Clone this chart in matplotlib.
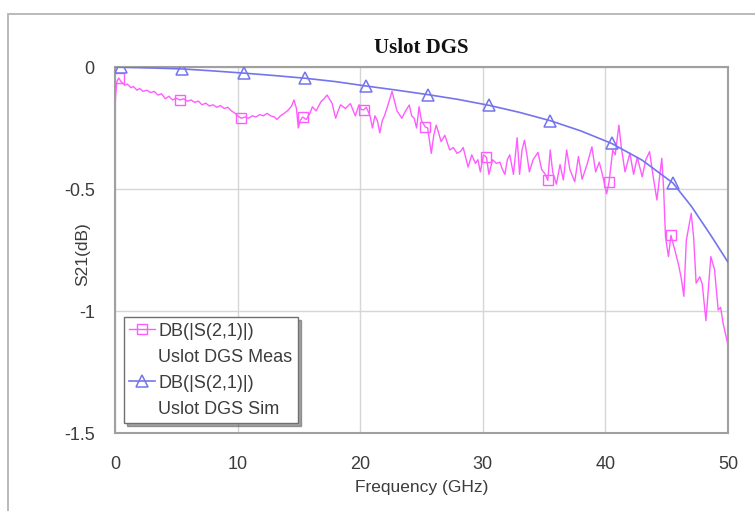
import numpy as np
import matplotlib
matplotlib.use("Agg")
import matplotlib.pyplot as plt
from matplotlib.patches import Rectangle
from matplotlib.lines import Line2D

# Measured |S21| in dB vs frequency (GHz)
meas_freq = [
    0.0, 0.05, 0.15, 0.3, 0.5, 0.8, 1.0, 1.3, 1.5, 1.8, 2.0, 2.3, 2.6, 2.9, 3.2, 3.5,
    3.8, 4.1, 4.4, 4.7, 5.0, 5.3, 5.6, 5.9, 6.2, 6.5, 6.8, 7.1, 7.4, 7.7, 8.0, 8.3,
    8.6, 8.9, 9.2, 9.5, 9.8, 10.0, 10.3, 10.6, 10.9, 11.2, 11.5, 11.8, 12.1, 12.4,
    12.7, 13.0, 13.2, 13.5, 13.8, 14.1, 14.4, 14.6, 14.8, 14.95, 15.1, 15.3, 15.6,
    15.9, 16.1, 16.4, 16.8, 17.05, 17.3, 17.7, 18.0, 18.2, 18.4, 18.8, 19.2, 19.6,
    19.9, 20.1, 20.3, 20.5, 20.8, 21.0, 21.2, 21.4, 21.6, 21.8, 22.0, 22.3, 22.6,
    22.8, 23.0, 23.4, 23.7, 24.0, 24.2, 24.4, 24.6, 24.8, 25.0, 25.3, 25.5, 25.8,
    26.0, 26.2, 26.4, 26.6, 26.9, 27.3, 27.6, 27.9, 28.2, 28.4, 28.6, 28.8, 29.1,
    29.4, 29.6, 29.8, 30.05, 30.3, 30.5, 30.8, 31.1, 31.4, 31.6, 31.8, 32.0, 32.2,
    32.5, 32.8, 33.0, 33.2, 33.4, 33.6, 33.8, 34.1, 34.5, 34.8, 35.1, 35.3, 35.5,
    35.7, 36.0, 36.3, 36.57, 36.84, 37.1, 37.5, 37.8, 38.1, 38.5, 38.9, 39.2, 39.5,
    39.8, 40.1, 40.3, 40.6, 40.8, 41.1, 41.3, 41.6, 42.0, 42.3, 42.6, 43.0, 43.3,
    43.6, 43.9, 44.2, 44.6, 44.75, 44.9, 45.14, 45.35, 45.5, 45.7, 46.0, 46.2, 46.4,
    46.6, 47.0, 47.2, 47.4, 47.7, 47.9, 48.2, 48.6, 48.9, 49.2, 49.4, 49.6, 50.0,
]
meas_db = [
    -0.17, -0.12, -0.06, -0.045, -0.06, -0.075, -0.07, -0.085, -0.08, -0.095, -0.088,
    -0.1, -0.095, -0.105, -0.1, -0.115, -0.11, -0.13, -0.12, -0.135, -0.128, -0.135,
    -0.13, -0.14, -0.135, -0.145, -0.14, -0.155, -0.148, -0.16, -0.155, -0.165, -0.158,
    -0.17, -0.165, -0.18, -0.19, -0.2, -0.21, -0.205, -0.21, -0.2, -0.205, -0.195,
    -0.2, -0.19, -0.2, -0.205, -0.215, -0.2, -0.19, -0.178, -0.16, -0.135, -0.17,
    -0.25, -0.22, -0.205, -0.215, -0.19, -0.163, -0.18, -0.142, -0.13, -0.115, -0.148,
    -0.21, -0.18, -0.155, -0.17, -0.15, -0.2, -0.155, -0.175, -0.175, -0.165, -0.2,
    -0.25, -0.2, -0.22, -0.27, -0.22, -0.197, -0.15, -0.1, -0.14, -0.18, -0.21, -0.18,
    -0.156, -0.2, -0.21, -0.25, -0.163, -0.22, -0.245, -0.25, -0.354, -0.28, -0.238,
    -0.27, -0.306, -0.28, -0.34, -0.33, -0.354, -0.345, -0.33, -0.37, -0.41, -0.36,
    -0.395, -0.38, -0.43, -0.36, -0.37, -0.44, -0.38, -0.395, -0.39, -0.42, -0.44,
    -0.38, -0.36, -0.44, -0.29, -0.44, -0.34, -0.3, -0.36, -0.43, -0.38, -0.35, -0.42,
    -0.44, -0.465, -0.34, -0.43, -0.48, -0.4, -0.463, -0.34, -0.42, -0.47, -0.367,
    -0.46, -0.4, -0.327, -0.43, -0.39, -0.45, -0.52, -0.47, -0.34, -0.36, -0.238,
    -0.33, -0.43, -0.353, -0.44, -0.37, -0.45, -0.38, -0.347, -0.45, -0.545, -0.374,
    -0.5, -0.695, -0.777, -0.69, -0.72, -0.757, -0.818, -0.87, -0.94, -0.71, -0.6,
    -0.7, -0.886, -0.86, -0.89, -1.04, -0.777, -0.83, -0.996, -0.985, -1.05, -1.14,
]
meas_marker_freq = [0.3, 5.3, 10.3, 15.3, 20.3, 25.3, 30.3, 35.3, 40.3, 45.35]

# Simulated |S21| in dB vs frequency (GHz)
sim_freq = [0.0, 0.5, 3.0, 5.5, 8.0, 10.5, 13.0, 15.5, 18.0, 20.5, 23.0, 25.5, 28.0,
            30.5, 33.0, 35.5, 38.0, 40.5, 43.0, 45.5, 47.0, 48.6, 50.0]
sim_db = [0.0, -0.001, -0.004, -0.008, -0.016, -0.025, -0.035, -0.046, -0.06, -0.078,
          -0.095, -0.113, -0.133, -0.157, -0.186, -0.22, -0.262, -0.313, -0.382,
          -0.475, -0.57, -0.69, -0.80]
sim_marker_freq = [0.5, 5.5, 10.5, 15.5, 20.5, 25.5, 30.5, 35.5, 40.5, 45.5]

x_ticks = [0, 10, 20, 30, 40, 50]
y_ticks = [0, -0.5, -1, -1.5]
y_tick_labels = ["0", "-0.5", "-1", "-1.5"]

meas_name = ["DB(|S(2,1)|)", "Uslot DGS Meas"]
sim_name = ["DB(|S(2,1)|)", "Uslot DGS Sim"]

meas_color = "#ff5cff"
sim_color = "#7474ee"
text_color = "#3c3c3c"

fig = plt.figure(figsize=(7.55, 5.11), dpi=100)
fig.patch.set_facecolor("white")

# outer panel border (runs off the right and bottom edges)
fig.patches.append(Rectangle((8 / 755, -0.2), 1.3, 1.2 - 14 / 511,
                             transform=fig.transFigure, fill=False,
                             edgecolor="#b4b4b4", linewidth=1.3, zorder=0))

ax = fig.add_axes([115 / 755, 1 - 433 / 511, (728 - 115) / 755, (433 - 67) / 511])

meas_f = np.array(meas_freq)
sim_f = np.array(sim_freq)

meas_style = dict(color=meas_color, linewidth=1.0, marker="s", markersize=7.5,
                  markerfacecolor="none", markeredgecolor=meas_color,
                  markeredgewidth=1.0)
sim_style = dict(color=sim_color, linewidth=1.2, marker="^", markersize=8.5,
                 markerfacecolor="none", markeredgecolor=sim_color,
                 markeredgewidth=1.1)

ax.plot(meas_f, meas_db, markevery=list(np.isin(meas_f, meas_marker_freq)),
        zorder=3, **meas_style)
ax.plot(sim_f, sim_db, markevery=list(np.isin(sim_f, sim_marker_freq)),
        zorder=4, **sim_style)

ax.set_xlim(0, 50)
ax.set_ylim(-1.5, 0)
ax.set_xticks(x_ticks)
ax.set_yticks(y_ticks)
ax.set_yticklabels(y_tick_labels)
ax.grid(True, color="#d6d6d6", linewidth=1.0)
ax.set_axisbelow(True)
ax.tick_params(axis="x", length=0, pad=16.5, labelsize=13, labelcolor=text_color)
ax.tick_params(axis="y", length=0, pad=14.5, labelsize=13, labelcolor=text_color)
for lab in ax.get_xticklabels() + ax.get_yticklabels():
    lab.set_fontfamily("Liberation Sans")
for sp in ax.spines.values():
    sp.set_color("#a0a0a0")
    sp.set_linewidth(1.5)

ax.set_xlabel("Frequency (GHz)", fontsize=12.5, color=text_color,
              fontfamily="Liberation Sans", labelpad=5)
ax.set_ylabel("S21(dB)", fontsize=12.5, color=text_color,
              fontfamily="Liberation Sans")
ax.yaxis.set_label_coords(-0.041, 0.49)
ax.set_title("Uslot DGS", fontsize=15, fontweight="bold",
             fontfamily="Liberation Serif", color="#111111", pad=10)

# legend: handle sits beside the first line of each two-line entry
blank = Line2D([], [], linestyle="none")
handles = [Line2D([], [], **meas_style), blank, Line2D([], [], **sim_style), blank]
labels = [meas_name[0], meas_name[1], sim_name[0], sim_name[1]]
leg = ax.legend(handles, labels, loc="lower left", bbox_to_anchor=(0.0147, 0.027),
                prop={"family": "Liberation Sans", "size": 13},
                frameon=True, fancybox=False, shadow=True,
                handlelength=1.4, handletextpad=0.2, borderpad=0.3,
                labelspacing=0.5, borderaxespad=0)
leg.get_frame().set_edgecolor("#707070")
leg.get_frame().set_linewidth(1.0)
for t in leg.get_texts():
    t.set_color(text_color)

fig.savefig("out.png", dpi=100, facecolor="white")
